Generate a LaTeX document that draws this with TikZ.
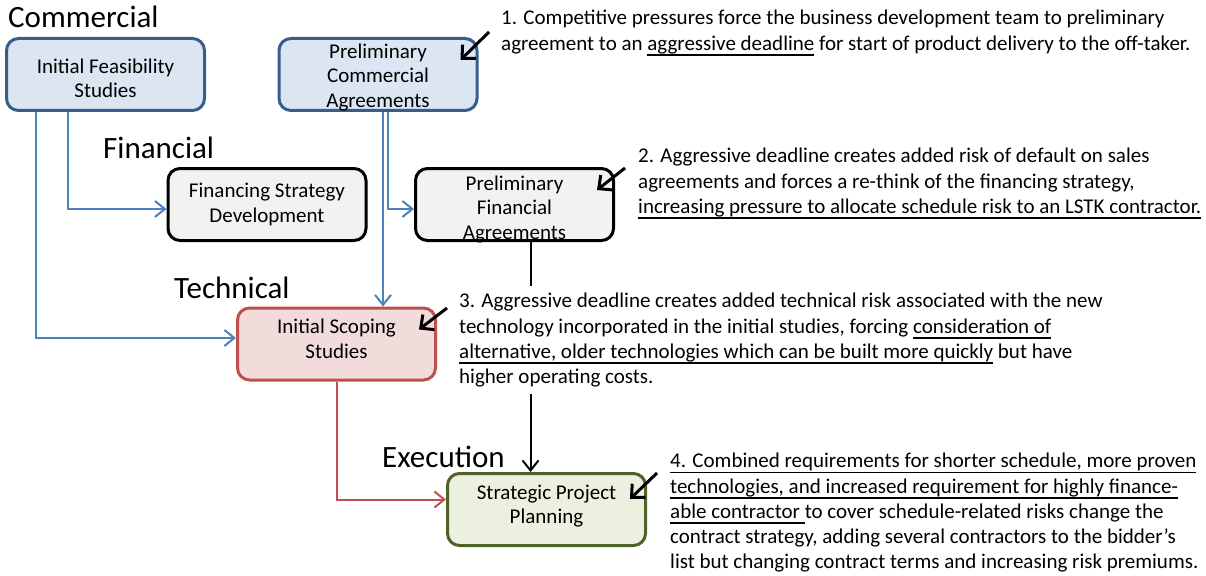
\documentclass[tikz,border=0pt]{standalone}
\usepackage{fontspec}
\setmainfont{Carlito}
\usetikzlibrary{arrows.meta,calc}

\definecolor{commline}{HTML}{385D8A}
\definecolor{commfill}{HTML}{DCE6F2}
\definecolor{commlink}{HTML}{4F81BD}
\definecolor{finfill}{HTML}{F2F2F2}
\definecolor{techline}{HTML}{C0504D}
\definecolor{techfill}{HTML}{F2DCDB}
\definecolor{execline}{HTML}{4F6228}
\definecolor{execfill}{HTML}{EBF1DE}

% underline with a fixed depth and weight
\newsavebox{\ulbox}
\newcommand{\ul}[1]{\sbox{\ulbox}{#1}\rlap{\rule[-5.5pt]{\wd\ulbox}{1.5pt}}\usebox{\ulbox}}
% centred lines, baseline on the first one
\newcommand{\lines}[1]{\begin{tabular}[t]{@{}c@{}}#1\end{tabular}}

\tikzset{
  stage/.style={draw, line width=3pt, rounded corners=12pt,
    minimum width=198pt, minimum height=72pt, inner xsep=4pt, inner ysep=0pt,
    font=\fontsize{21}{24.5}\selectfont},
  textdrop/.style={text height=15pt, text depth=#1},
  commercial/.style={stage, draw=commline, fill=commfill},
  financial/.style={stage, draw=black, fill=finfill},
  technical/.style={stage, draw=techline, fill=techfill},
  execution/.style={stage, draw=execline, fill=execfill},
  phase/.style={anchor=base west, inner sep=0pt, font=\fontsize{31}{36}\selectfont},
  remark/.style={anchor=north west, inner sep=0pt, align=left,
    font=\fontsize{21}{25.3}\selectfont},
  feed/.style={line width=2pt, -{Straight Barb[length=10pt,width=16pt]}},
  pointer/.style={line width=3pt, -{Straight Barb[length=10pt,width=19pt]}},
}

\begin{document}
\begin{tikzpicture}[x=1pt,y=-1pt]
\useasboundingbox (0,0) rectangle (1206,575);

% phase headings
\node[phase] (commercial) at (8,28) {Commercial};
\node[phase] (financial) at (103,158) {Financial};
\node[phase] (technical) at (174,298) {Technical};
\node[phase] (execution) at (382,467) {Execution};

% stages
\node[commercial, textdrop=17pt] (ifs) at (105.5,74.5) {\lines{Initial Feasibility\\Studies}};
\node[commercial, textdrop=47pt] (pca) at (378,74.5) {\lines{Preliminary\\Commercial\\Agreements}};
\node[financial, textdrop=29pt] (fsd) at (267,204.5) {\lines{Financing Strategy\\Development}};
\node[financial, textdrop=44pt] (pfa) at (514.5,204.5) {\lines{Preliminary\\Financial\\Agreements}};
\node[technical, textdrop=36pt] (iss) at (336.5,344) {\lines{Initial Scoping\\Studies}};
\node[execution, textdrop=36pt] (spp) at (546.5,509.5) {\lines{Strategic Project\\Planning}};

% links between stages
\draw[feed, commlink] ([xshift=-37.5pt]ifs.south) |- ([yshift=-4.5pt]fsd.west);
\draw[feed, commlink] ([xshift=-69.5pt]ifs.south) |- ([yshift=6pt]iss.west);
\draw[feed, commlink] ([xshift=5pt]pca.south) -- ([xshift=5pt]pca.south |- iss.north);
\draw[feed, commlink] ([xshift=10pt]pca.south) |- ([yshift=-4.5pt]pfa.west);
\draw[feed, black] ([xshift=16pt]pfa.south) -- ([xshift=16pt]pfa.south |- spp.north);
\draw[feed, techline] (iss.south) |- ([yshift=10pt]spp.west);

% notes
\node[remark] (note1) at (501,10) {1. Competitive pressures force the business development team to preliminary\\
agreement to an \ul{aggressive deadline} for start of product delivery to the off-taker.};
\node[remark] (note2) at (638,148) {2. Aggressive deadline creates added risk of default on sales\\
agreements and forces a re-think of the financing strategy,\\
\ul{increasing pressure to allocate schedule risk to an LSTK contractor.}};
\node[remark, fill=white, inner ysep=7pt] (note3) at (459,286) {3. Aggressive deadline creates added technical risk associated with the new\\
technology incorporated in the initial studies, forcing \ul{consideration of}\\
\ul{alternative, older technologies which can be built more quickly} but have\\
higher operating costs.};
\node[remark] (note4) at (670,453) {\ul{4. Combined requirements for shorter schedule, more proven}\\
\ul{technologies, and increased requirement for highly finance-}\\
\ul{able contractor }to cover schedule-related risks change the\\
contract strategy, adding several contractors to the bidder’s\\
list but changing contract terms and increasing risk premiums.};

% pointers from the notes
\draw[pointer] ([shift={(-12,22)}]note1.north west) -- ([shift={(-18,23)}]pca.north east);
\draw[pointer] ([shift={(-13,20)}]note2.north west) -- ([shift={(-18,23)}]pfa.north east);
\draw[pointer] ([shift={(-12,22)}]note3.north west) -- ([shift={(-18,23)}]iss.north east);
\draw[pointer] ([shift={(-13,20)}]note4.north west) -- ([shift={(-17,27)}]spp.north east);
\end{tikzpicture}
\end{document}
